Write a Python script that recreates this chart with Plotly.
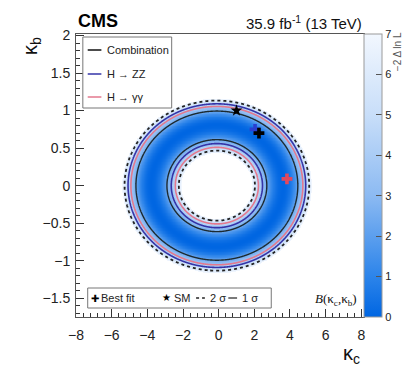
import numpy as np
import plotly.graph_objects as go

# ---- values read for the kappa_c / kappa_b scan ----
sigma_levels = [2.30, 5.99]          # -2 dlnL for 1 sigma and 2 sigma (2 parameters)
ellipse_aspect = 4.57                 # kappa_c / kappa_b axis ratio of the ring
kc_centre = -0.10                     # ring centre along kappa_c

# radial positions (kappa_b units) where the combined scan crosses 2s,1s,min,1s,2s
comb_radii = [0.467, 0.613, 0.81, 0.993, 1.133]
zz_radii = [0.56, 0.82, 1.09]         # H->ZZ 1 sigma inner edge, minimum, outer edge
gg_radii = [0.51, 0.78, 1.055]        # H->gamma gamma 1 sigma inner edge, minimum, outer edge

best_comb = (2.26, 0.70)
best_zz = (2.04, 0.75)
best_gg = (3.83, 0.09)
sm_point = (1.0, 1.0)

x_ticks = [-8, -6, -4, -2, 0, 2, 4, 6, 8]
y_ticks = [-1.5, -1, -0.5, 0, 0.5, 1, 1.5, 2]
z_ticks = [0, 1, 2, 3, 4, 5, 6, 7]

FONT = "Liberation Sans, Arial, sans-serif"
BLUE = "#3434a8"
PINK = "#e3798e"

# ---- scan surface ----
kc = np.linspace(-8.3, 8.4, 835)
kb = np.linspace(-1.85, 2.1, 396)
KC, KB = np.meshgrid(kc, kb)
rho = np.sqrt(((KC - kc_centre) / ellipse_aspect) ** 2 + KB ** 2)


def scan(radii, levels):
    """-2 dlnL along the elliptical radius from signed sqrt crossings."""
    s_pts = np.array(levels, dtype=float)
    r_pts = np.array(radii, dtype=float)
    s = np.interp(rho, r_pts, s_pts)
    lo = rho < r_pts[0]
    hi = rho > r_pts[-1]
    s[lo] = s_pts[0] + (rho[lo] - r_pts[0]) * (s_pts[1] - s_pts[0]) / (r_pts[1] - r_pts[0])
    s[hi] = s_pts[-1] + (rho[hi] - r_pts[-1]) * (s_pts[-1] - s_pts[-2]) / (r_pts[-1] - r_pts[-2])
    return s ** 2


one = np.sqrt(sigma_levels[0])
two = np.sqrt(sigma_levels[1])
q_comb = scan(comb_radii, [-two, -one, 0.0, one, two])
q_zz = scan(zz_radii, [-one, 0.0, one])
q_gg = scan(gg_radii, [-one, 0.0, one])

z_map = np.where(q_comb > 7.0, np.nan, q_comb)

fig = go.Figure()

fig.add_trace(go.Heatmap(
    x=kc, y=kb, z=z_map, zmin=0, zmax=7, zsmooth="best",
    colorscale=[[0.0, "rgb(0,102,226)"], [1 / 7, "rgb(44,132,234)"],
                [3 / 7, "rgb(140,186,242)"], [5 / 7, "rgb(200,222,249)"],
                [1.0, "rgb(242,247,254)"]],
    hoverinfo="skip",
    colorbar=dict(
        x=1.0, xanchor="left", xpad=0, y=0.5, yanchor="middle", ypad=0,
        len=1, lenmode="fraction", thickness=18,
        outlinewidth=1, outlinecolor="#9a9a9a",
        tickvals=z_ticks, ticks="inside", ticklen=6, tickcolor="#555",
        tickfont=dict(family=FONT, size=11, color="#222"),
    ),
))


def contour_line(q, level, color, width, dash="solid"):
    return go.Contour(
        x=kc, y=kb, z=q, showscale=False, hoverinfo="skip",
        contours=dict(start=level, end=level, size=1, coloring="lines"),
        colorscale=[[0, color], [1, color]],
        line=dict(color=color, width=width, dash=dash, smoothing=1),
    )


fig.add_trace(contour_line(q_zz, sigma_levels[0], BLUE, 1.6))
fig.add_trace(contour_line(q_gg, sigma_levels[0], PINK, 1.6))
fig.add_trace(contour_line(q_comb, sigma_levels[0], "#1c2a30", 1.4))
fig.add_trace(contour_line(q_comb, sigma_levels[1], "#222", 1.8, "dot"))

fig.add_trace(go.Scatter(x=[best_zz[0]], y=[best_zz[1]], mode="markers",
                         marker=dict(symbol="cross", size=9, color="#2a3fd0"), hoverinfo="skip"))
fig.add_trace(go.Scatter(x=[best_gg[0]], y=[best_gg[1]], mode="markers",
                         marker=dict(symbol="cross", size=9, color="#e2485e"), hoverinfo="skip"))
fig.add_trace(go.Scatter(x=[best_comb[0]], y=[best_comb[1]], mode="markers",
                         marker=dict(symbol="cross", size=9, color="black"), hoverinfo="skip"))
fig.add_trace(go.Scatter(x=[sm_point[0]], y=[sm_point[1]], mode="markers",
                         marker=dict(symbol="star", size=9, color="black"), hoverinfo="skip"))

# ---- frame geometry (pixels) ----
W, H = 410, 366
X0, X1, Y0, Y1 = 76, 371, 34, 317


def px(x):
    return (x - X0) / (X1 - X0)


def py(y):
    return (Y1 - y) / (Y1 - Y0)


axis_common = dict(
    showgrid=False, zeroline=False, showline=True, linecolor="#555", linewidth=1,
    mirror=True, ticks="inside", ticklen=8, tickcolor="#333",
    tickfont=dict(family=FONT, size=14, color="#222"),
)

fig.update_layout(
    width=W, height=H,
    margin=dict(l=X0, r=W - X1, t=Y0, b=H - Y1, pad=0),
    paper_bgcolor="white", plot_bgcolor="white",
    showlegend=False,
    xaxis=dict(range=[-8.0, 8.15], tickvals=x_ticks, ticklabelstandoff=5,
               minor=dict(dtick=0.4, ticks="inside", ticklen=4, tickcolor="#333"),
               **axis_common),
    yaxis=dict(range=[-1.75, 2.02], tickvals=y_ticks, ticklabelstandoff=2,
               minor=dict(dtick=0.1, ticks="inside", ticklen=4, tickcolor="#333"),
               **axis_common),
)

ann = []


def text(x, y, s, size=11, xanchor="left", family=FONT, color="#222", angle=0):
    ann.append(dict(x=px(x), y=py(y), xref="paper", yref="paper", text=s, showarrow=False,
                    xanchor=xanchor, yanchor="middle", textangle=angle,
                    font=dict(family=family, size=size, color=color)))


text(76, 21, "<b>CMS</b>", size=18, color="black")
text(371, 23, "35.9 fb<sup>-1</sup> (13 TeV)", size=15, xanchor="right", color="#111")
text(31, 46, "κ<sub>b</sub>", size=20, xanchor="center", color="#111", angle=-90)
text(358, 354, "κ<sub>c</sub>", size=20, xanchor="center", color="#111")
text(366, 299, "<i>B</i>(κ<sub>c</sub>,κ<sub>b</sub>)", size=13, xanchor="right",
     family="Liberation Serif, Times New Roman, serif", color="#111")
# colour-axis title, squeezed into the strip right of the colour bar
text(405, 52, "−2 Δ ln L", size=10, xanchor="center", color="#555", angle=-90)

# channel legend
shapes = [dict(type="rect", xref="paper", yref="paper", x0=px(83), x1=px(174), y0=py(108), y1=py(37),
               line=dict(color="#777", width=1), fillcolor="white", layer="above")]
for yy, col, lab in [(50, "#111", "Combination"), (74, BLUE, "H → ZZ"), (97, PINK, "H → γγ")]:
    shapes.append(dict(type="line", xref="paper", yref="paper", x0=px(88), x1=px(102),
                       y0=py(yy), y1=py(yy), line=dict(color=col, width=1.5), layer="above"))
    text(106, yy, lab, size=11)

# marker / line-style legend
shapes.append(dict(type="rect", xref="paper", yref="paper", x0=px(88), x1=px(276), y0=py(308), y1=py(288),
                   line=dict(color="#777", width=1), fillcolor="white", layer="above"))
text(95, 298, "✚", size=10, xanchor="center", color="black")
text(100, 298, "Best fit", size=11)
text(169, 297, "★", size=10, xanchor="center", color="black")
text(174, 298, "SM", size=11)
shapes.append(dict(type="line", xref="paper", yref="paper", x0=px(199), x1=px(208), y0=py(298), y1=py(298),
                   line=dict(color="#222", width=1.5, dash="dot"), layer="above"))
text(211, 298, "2 σ", size=11)
shapes.append(dict(type="line", xref="paper", yref="paper", x0=px(232), x1=px(241), y0=py(298), y1=py(298),
                   line=dict(color="#222", width=1.2), layer="above"))
text(244, 298, "1 σ", size=11)

fig.update_layout(annotations=ann, shapes=shapes)

fig.write_html("out.html")
